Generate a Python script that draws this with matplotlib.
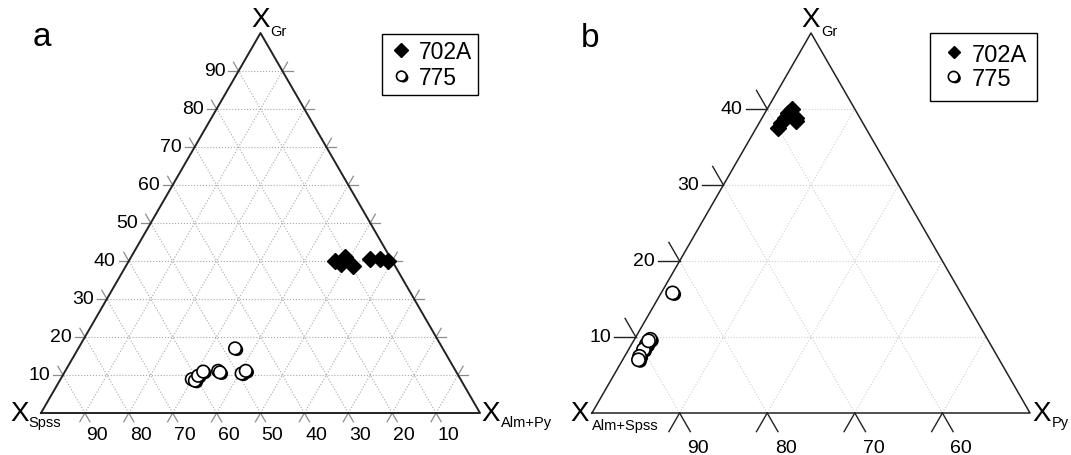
import matplotlib.pyplot as plt
import matplotlib.patheffects as pe

plt.rcParams['font.family'] = ['Liberation Sans', 'DejaVu Sans']

# panel a: X_Gr / X_Spss (mol %), X_Alm+Py is the rest
a_702_gr = [40.0, 39.2, 41.0, 38.7, 40.5, 40.5, 40.0]
a_702_spss = [13.0, 12.1, 10.3, 9.6, 4.8, 2.6, 1.0]
a_775_gr = [17.0, 8.9, 8.5, 9.8, 10.9, 11.1, 10.7, 10.4, 11.1]
a_775_spss = [47.3, 61.2, 60.7, 59.3, 57.6, 54.1, 53.9, 49.1, 47.8]

# panel b: X_Gr / X_Py (mol %), X_Alm+Spss is the rest
b_702_gr = [39.5, 38.2, 37.5, 38.8, 38.4, 38.8, 40.0]
b_702_py = [2.6, 2.5, 2.45, 3.9, 4.1, 2.6, 2.8]
b_775_gr = [15.8, 9.7, 9.0, 8.35, 7.45, 7.0, 9.5]
b_775_py = [1.3, 1.8, 1.7, 1.7, 1.7, 1.8, 1.7]

ticks_a = [10, 20, 30, 40, 50, 60, 70, 80, 90]
ticks_b_gr = [10, 20, 30, 40]
ticks_b_as = [90, 80, 70, 60]

W, H = 1071, 456


def xy(gr, right, scale):
    # ternary -> cartesian, right = component of the bottom-right corner
    return (right + gr / 2.0) / scale, gr / scale


def seg(ax, p, q, scale, **kw):
    x0, y0 = xy(p[0], p[1], scale)
    x1, y1 = xy(q[0], q[1], scale)
    ax.plot([x0, x1], [y0, y1], clip_on=False, **kw)


def make_ax(left_px, right_px):
    ax = fig.add_axes([left_px / W, (H - 414) / H, (right_px - left_px) / W, 380 / H])
    ax.set_xlim(0, 1)
    ax.set_ylim(0, 1)
    ax.axis('off')
    return ax


def corner_label(ax, x, y, sub, dx, dy, sdx, sdy, va='center'):
    ax.annotate('X', (x, y), xytext=(dx, dy), textcoords='offset pixels',
                ha='center', va=va, fontsize=20, annotation_clip=False)
    ax.annotate(sub, (x, y), xytext=(sdx, sdy), textcoords='offset pixels',
                ha='left', va='baseline', fontsize=10.5, annotation_clip=False)


shadow = [pe.SimplePatchShadow(offset=(1.4, -1.0), shadow_rgbFace='black', alpha=1.0), pe.Normal()]

fig = plt.figure(figsize=(W / 100, H / 100), dpi=100)

# ---------------- panel a ----------------
ax = make_ax(41, 480)
S = 100.0
L = 2.3
grid_kw = dict(color='#a8a8a8', lw=0.8, ls=':', zorder=1)
tick_kw = dict(color='#8c8c8c', lw=0.9, zorder=2)
for v in ticks_a:
    seg(ax, (v, 0), (v, 100 - v), S, **grid_kw)          # Gr
    seg(ax, (0, 100 - v), (100 - v, 0), S, **grid_kw)    # Spss
    seg(ax, (0, v), (100 - v, v), S, **grid_kw)          # Alm+Py
    # left edge
    seg(ax, (v, 0), (v, -L), S, **tick_kw)
    seg(ax, (v, 0), (v + L, -L), S, **tick_kw)
    # right edge
    seg(ax, (v, 100 - v), (v, 100 - v + L), S, **tick_kw)
    seg(ax, (v, 100 - v), (v + L, 100 - v), S, **tick_kw)
    # bottom
    w = 100 - v
    seg(ax, (0, w), (-L, w + L), S, **tick_kw)
    seg(ax, (0, w), (-L, w), S, **tick_kw)
    ax.annotate(str(v), xy(v, -L, S), xytext=(-3, 0), textcoords='offset pixels',
                ha='right', va='center', fontsize=14, annotation_clip=False)
    ax.annotate(str(v), xy(-L, w + L, S), xytext=(7, -13), textcoords='offset pixels',
                ha='center', va='center', fontsize=14, annotation_clip=False)
tx, ty = zip(*[xy(g, r, S) for g, r in [(0, 0), (0, 100), (100, 0), (0, 0)]])
ax.plot(tx, ty, color='#222222', lw=1.4, zorder=3, clip_on=False)

x, y = zip(*[xy(g, 100 - g - s, S) for g, s in zip(a_702_gr, a_702_spss)])
h1, = ax.plot(x, y, 'D', color='black', ms=8.5, ls='none', zorder=5, clip_on=False, label='702A')
x, y = zip(*[xy(g, 100 - g - s, S) for g, s in zip(a_775_gr, a_775_spss)])
h2, = ax.plot(x, y, 'o', mfc='white', mec='black', mew=1.2, ms=9, ls='none', zorder=5,
              clip_on=False, path_effects=shadow, label='775')

corner_label(ax, 0.5, 1.0, 'Gr', 0, 1, 10, -2, va='bottom')
corner_label(ax, 0, 0, 'Spss', -21, 0, -13, -13)
corner_label(ax, 1, 0, 'Alm+Py', 11, 0, 21, -13)

leg = fig.legend(handles=[h1, h2], loc='upper left', bbox_to_anchor=(382 / W, 1 - 35 / H),
                 fontsize=16.5, frameon=True, fancybox=False, edgecolor='black', framealpha=1,
                 handlelength=1.2, handletextpad=0.15, borderpad=0.25, labelspacing=0.15,
                 borderaxespad=0, markerscale=0.8)
leg.get_frame().set_linewidth(1.0)
fig.text(33 / W, 1 - 46 / H, 'a', fontsize=24, va='baseline')

# ---------------- panel b ----------------
ax = make_ax(592, 1030)
S = 50.0
L = 2.45
grid_kw = dict(color='#cfcfcf', lw=0.8, ls=':', zorder=1)
tick_kw = dict(color='#222222', lw=1.0, zorder=2)
for v in ticks_b_gr:
    seg(ax, (v, 0), (v, 50 - v), S, **grid_kw)
    seg(ax, (0, v), (50 - v, v), S, **grid_kw)
    seg(ax, (v, 0), (v, -L), S, **tick_kw)
    seg(ax, (v, 0), (v + L, -L), S, **tick_kw)
    ax.annotate(str(v), xy(v, -L, S), xytext=(-3, 0), textcoords='offset pixels',
                ha='right', va='center', fontsize=14, annotation_clip=False)
for w in ticks_b_as:
    p = 100 - w
    seg(ax, (0, p), (p, 0), S, **grid_kw)
    seg(ax, (0, p), (-L, p + L), S, **tick_kw)
    seg(ax, (0, p), (-L, p), S, **tick_kw)
    ax.annotate(str(w), xy(-L, p + L, S), xytext=(8, -16), textcoords='offset pixels',
                ha='center', va='center', fontsize=14, annotation_clip=False)
tx, ty = zip(*[xy(g, r, S) for g, r in [(0, 0), (0, 50), (50, 0), (0, 0)]])
ax.plot(tx, ty, color='#222222', lw=1.1, zorder=3, clip_on=False)

x, y = zip(*[xy(g, p, S) for g, p in zip(b_702_gr, b_702_py)])
h1, = ax.plot(x, y, 'D', color='black', ms=8, ls='none', zorder=5, clip_on=False, label='702A')
x, y = zip(*[xy(g, p, S) for g, p in zip(b_775_gr, b_775_py)])
h2, = ax.plot(x, y, 'o', mfc='white', mec='black', mew=1.2, ms=9.5, ls='none', zorder=5,
              clip_on=False, path_effects=shadow, label='775')

corner_label(ax, 0.5, 1.0, 'Gr', 0, 1, 10, -2, va='bottom')
corner_label(ax, 0, 0, 'Alm+Spss', -12, 0, 0, -16)
corner_label(ax, 1, 0, 'Py', 12, 0, 22, -13)

leg = fig.legend(handles=[h1, h2], loc='upper left', bbox_to_anchor=(930 / W, 1 - 34 / H),
                 fontsize=17, frameon=True, fancybox=False, edgecolor='black', framealpha=1,
                 handlelength=1.1, handletextpad=0.2, borderpad=0.45, labelspacing=0.1,
                 borderaxespad=0, markerscale=0.8)
leg.get_frame().set_linewidth(1.0)
fig.text(581 / W, 1 - 47 / H, 'b', fontsize=24, va='baseline')

fig.savefig('out.png', dpi=100)
